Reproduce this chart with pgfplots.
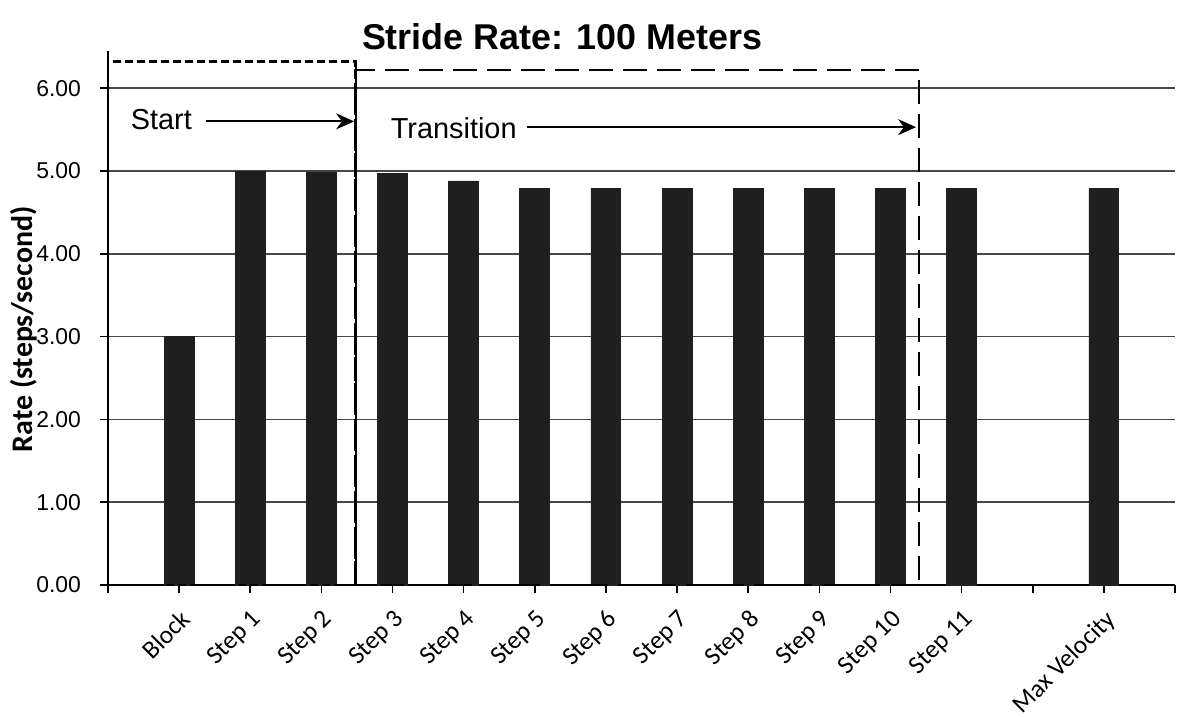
\documentclass[border=0pt]{standalone}
\usepackage{fontspec}
\setmainfont{Liberation Sans}
\newfontfamily\calibri{Carlito}
\usepackage{pgfplots}
\pgfplotsset{compat=1.18}
\usetikzlibrary{arrows.meta}
\begin{document}
\begin{tikzpicture}
\begin{axis}[
  at={(0,0)}, anchor=south west,
  scale only axis, width=533.5bp, height=267bp,
  xmin=-1, xmax=14, ymin=0, ymax=6.45,
  axis lines=left,
  axis line style={-, line width=0.9bp, black},
  clip=false,
  xtick={-1,0,1,2,3,4,5,6,7,8,9,10,11,12,13,14},
  xticklabels={{},Block,Step 1,Step 2,Step 3,Step 4,Step 5,Step 6,Step 7,Step 8,Step 9,Step 10,Step 11,{},Max Velocity,{}},
  ytick={0,1,2,3,4,5,6},
  yticklabels={0.00,1.00,2.00,3.00,4.00,5.00,6.00},
  tick align=outside,
  major tick length=4bp,
  tick style={line width=0.8bp, black},
  ymajorgrids,
  grid style={line width=0.8bp, black!72},
  xticklabel shift=6bp,
  xticklabel style={font=\calibri\fontsize{12.8}{15}\selectfont, rotate=45, anchor=north east, inner sep=1bp},
  yticklabel style={font=\fontsize{11.5}{13}\selectfont, xshift=-6bp},
  every axis title shift=0pt,
  title={Stride Rate: 100 Meters},
  title style={font=\fontsize{18}{20}\selectfont\bfseries, at={(axis description cs:0.4255,1.026)}, anchor=center},
  ylabel={Rate (steps/second)},
  ylabel style={font=\calibri\bfseries\fontsize{15}{17}\selectfont, at={(axis description cs:-0.0787,0.479)}, anchor=center},
]
\addplot[ybar, bar width=0.42, fill=black!88, draw=black!88] coordinates {
 (0,3.00) (1,5.00) (2,4.98) (3,4.97) (4,4.88) (5,4.79) (6,4.79) (7,4.79)
 (8,4.79) (9,4.79) (10,4.79) (11,4.79) (13,4.79)
};
\draw[dash pattern=on 4bp off 2bp, line width=1.3bp] (axis cs:-1,0) rectangle (axis cs:2.48,6.32);
\draw[dash pattern=on 12bp off 5bp, line width=1.3bp] (axis cs:2.48,0) -- (axis cs:2.48,6.22) -- (axis cs:10.4,6.22) -- (axis cs:10.4,0) -- cycle;
\draw[line width=1bp] (axis cs:2.48,0) -- (axis cs:2.48,6.32);
\draw[-{Stealth[length=9bp,width=8bp]}, line width=0.9bp] (axis cs:0.38,5.6) -- (axis cs:2.46,5.6);
\draw[-{Stealth[length=9bp,width=8bp]}, line width=0.9bp] (axis cs:4.89,5.53) -- (axis cs:10.36,5.53);
\node[font=\fontsize{14.5}{16}\selectfont] at (axis cs:-0.25,5.62) {Start};
\node[font=\fontsize{14.5}{16}\selectfont] at (axis cs:3.86,5.52) {Transition};
\end{axis}
\pgfresetboundingbox
\path (-54bp,-66bp) rectangle (535.5bp,292.5bp);
\end{tikzpicture}
\end{document}
